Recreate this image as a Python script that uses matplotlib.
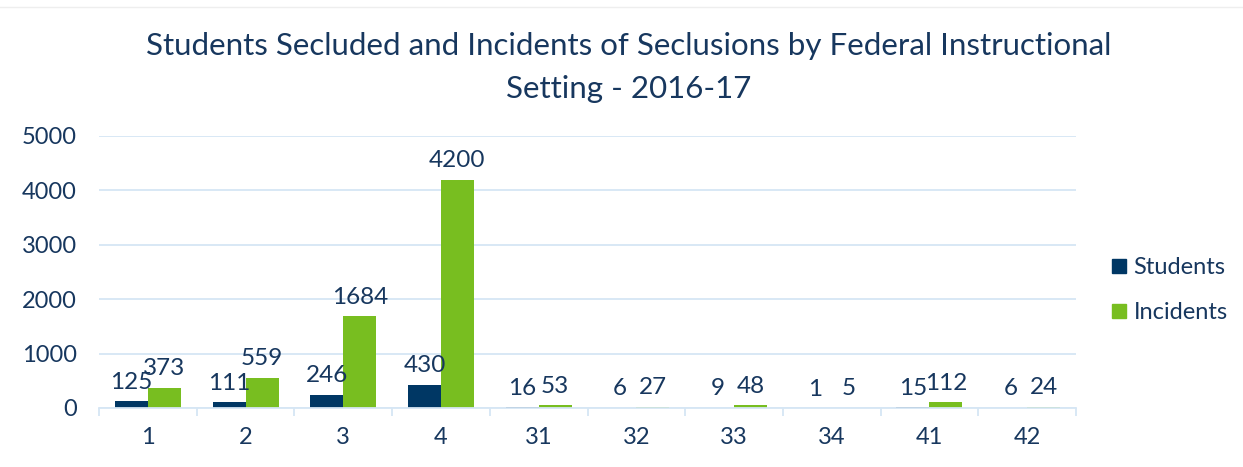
import matplotlib
matplotlib.use("Agg")
import matplotlib.pyplot as plt
import numpy as np
from matplotlib.lines import Line2D

categories = ["1", "2", "3", "4", "31", "32", "33", "34", "41", "42"]
students = [125, 111, 246, 430, 16, 6, 9, 1, 15, 6]
incidents = [373, 559, 1684, 4200, 53, 27, 48, 5, 112, 24]

NAVY = "#003764"
GREEN = "#78BE20"
TEXT = "#17375E"
GRID = "#D6E6F4"

plt.rcParams['font.family'] = ['Lato', 'DejaVu Sans']

fig = plt.figure(figsize=(12.43, 4.67), dpi=100)
ax = fig.add_axes([99/1243, 59/467, (1076-99)/1243, (408-136)/467])

x = np.arange(len(categories))
w = 0.338
b1 = ax.bar(x - w/2, students, w, color=NAVY, label="Students")
b2 = ax.bar(x + w/2, incidents, w, color=GREEN, label="Incidents")

for bars, vals in ((b1, students), (b2, incidents)):
    for rect, v in zip(bars, vals):
        ax.annotate(str(v), (rect.get_x() + rect.get_width()/2, rect.get_height()),
                    xytext=(0, 6), textcoords="offset points", ha="center", va="bottom",
                    fontsize=17.5, color=TEXT)

ax.set_xlim(-0.5, len(categories) - 0.5)
ax.set_ylim(0, 5000)
ax.set_yticks([0, 1000, 2000, 3000, 4000, 5000])
ax.yaxis.grid(True, color=GRID, linewidth=1.3)
ax.set_axisbelow(True)
for s in ("top", "right", "left"):
    ax.spines[s].set_visible(False)
ax.spines["bottom"].set_color(GRID)
ax.spines["bottom"].set_linewidth(1.3)
ax.set_xticks(x)
ax.set_xticklabels(categories)
ax.set_xticks(np.arange(-0.5, len(categories)), minor=True)
ax.tick_params(axis="x", which="major", length=0, pad=14, labelsize=17, labelcolor=TEXT)
ax.tick_params(axis="x", which="minor", length=6, color=GRID, width=1.3)
ax.tick_params(axis="y", length=0, pad=16, labelsize=17, labelcolor=TEXT)

fig.text(629/1243, 1 - 46/467, "Students Secluded and Incidents of Seclusions by Federal Instructional",
         ha="center", va="center", fontsize=22.5, color=TEXT)
fig.text(629/1243, 1 - 89/467, "Setting - 2016-17",
         ha="center", va="center", fontsize=22.5, color=TEXT)

handles = [Line2D([], [], marker="s", linestyle="none", markersize=10, color=NAVY),
           Line2D([], [], marker="s", linestyle="none", markersize=10, color=GREEN)]
fig.legend(handles, ["Students", "Incidents"], loc="center left",
           bbox_to_anchor=(1110/1243, 1 - 290/467), frameon=False, fontsize=17,
           labelcolor=TEXT, handletextpad=0.2, labelspacing=1.0, handlelength=0.8,
           borderpad=0, borderaxespad=0)

fig.add_artist(Line2D([0, 1], [1 - 7/467, 1 - 7/467], color="#EEEEEE", linewidth=1,
                      transform=fig.transFigure))

fig.savefig("out.png", dpi=100, facecolor="white")
